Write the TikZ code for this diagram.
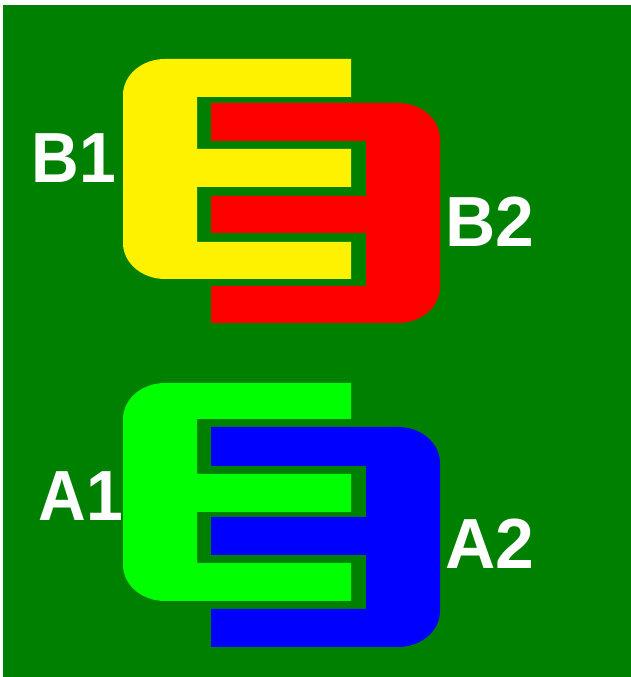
\documentclass[tikz,border=0pt]{standalone}
\usepackage{fontspec}
\setmainfont{Liberation Sans}
\definecolor{bggreen}{RGB}{0,128,0}
\definecolor{limeg}{RGB}{0,255,0}
\begin{document}
\begin{tikzpicture}[x=1pt,y=1pt,
  lbl/.style={text=white,inner sep=0pt,font=\bfseries\fontsize{71}{71}\selectfont},
  cr/.style={x radius=42,y radius=36}]
\useasboundingbox (0,0) rectangle (631,677);
\fill[white] (0,0) rectangle (631,677);
\fill[bggreen] (3,0) rectangle (631,672);
% B1 yellow E
\fill[yellow] (351,618) -- (165,618) arc[start angle=90,end angle=180,cr] -- (123,434)
  arc[start angle=180,end angle=270,cr] -- (351,398) -- (351,435) -- (197,435) -- (197,490)
  -- (351,490) -- (351,528) -- (197,528) -- (197,580) -- (351,580) -- cycle;
% B2 red mirrored E
\fill[red] (211,574) -- (398,574) arc[start angle=90,end angle=0,cr] -- (440,390)
  arc[start angle=0,end angle=-90,cr] -- (211,354) -- (211,391) -- (366,391) -- (366,444)
  -- (211,444) -- (211,481) -- (366,481) -- (366,536) -- (211,536) -- cycle;
% A1 green E
\fill[limeg] (351,294) -- (165,294) arc[start angle=90,end angle=180,cr] -- (123,112)
  arc[start angle=180,end angle=270,cr] -- (351,76) -- (351,114) -- (197,114) -- (197,165)
  -- (351,165) -- (351,203) -- (197,203) -- (197,258) -- (351,258) -- cycle;
% A2 blue mirrored E
\fill[blue] (211,250) -- (398,250) arc[start angle=90,end angle=0,cr] -- (440,66)
  arc[start angle=0,end angle=-90,cr] -- (211,30) -- (211,68) -- (366,68) -- (366,122)
  -- (211,122) -- (211,160) -- (366,160) -- (366,211) -- (211,211) -- cycle;
\node[lbl,xscale=0.93] (B1) at (74,519) {B1};
\node[lbl,xscale=0.98] (B2) at (490,455.5) {B2};
\node[lbl,xscale=0.93] (A1) at (81,181) {A1};
\node[lbl,xscale=0.98] (A2) at (489.5,133.5) {A2};
\end{tikzpicture}
\end{document}
